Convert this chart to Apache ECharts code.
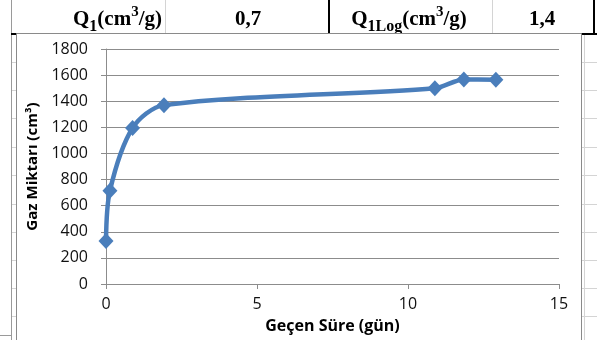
<!DOCTYPE html>
<html>
<head>
<meta charset="utf-8">
<script src="https://cdn.jsdelivr.net/npm/echarts@6/dist/echarts.min.js"></script>
<style>
  html, body { margin: 0; padding: 0; background: #fff; }
  #chart { width: 597px; height: 340px; }
</style>
</head>
<body>
<div id="chart"></div>
<script>
// Elapsed time (days) and cumulative gas volume (cm3)
const days = [0, 0.13, 0.88, 1.92, 10.89, 11.85, 12.91];
const gas = [330, 715, 1195, 1370, 1500, 1567, 1565];

// Summary cells shown above the chart
const q1Value = '0,7';
const q1LogValue = '1,4';

const xTicks = { min: 0, max: 15, interval: 5 };
const yTicks = { min: 0, max: 1800, interval: 200 };

const points = days.map((d, i) => [d, gas[i]]);

const serif = 'Liberation Serif';
const sans = 'Open Sans';
const gridGray = '#8c8c8c';
const sheetGray = '#d4d4d4';

const headerRich = {
  m: { fontFamily: serif, fontWeight: 'bold', fontSize: 21, lineHeight: 30, fill: '#000' },
  s: { fontFamily: serif, fontWeight: 'bold', fontSize: 16, lineHeight: 20, verticalAlign: 'bottom', fill: '#000' },
  p: { fontFamily: serif, fontWeight: 'bold', fontSize: 15, lineHeight: 10, verticalAlign: 'top', fill: '#000' }
};

function headerText(text, x, align) {
  return {
    type: 'text', z: -20,
    style: { text, x, y: 20, rich: headerRich, align, verticalAlign: 'middle', textAlign: align, textVerticalAlign: 'middle' }
  };
}

function line(x1, y1, x2, y2, stroke, lineWidth, z) {
  return { type: 'line', z: z, shape: { x1, y1, x2, y2 }, style: { stroke, lineWidth } };
}

// worksheet row lines visible beside the chart frame
const sheetRows = [62, 90, 118, 147, 175, 204, 232, 260, 288, 316];
const sheetGraphics = [];
sheetRows.forEach(y => {
  sheetGraphics.push(line(11, y + 0.5, 16, y + 0.5, sheetGray, 1, -30));
  sheetGraphics.push(line(582, y + 0.5, 597, y + 0.5, sheetGray, 1, -30));
});

const chart = echarts.init(document.getElementById('chart'), null, { renderer: 'canvas' });

chart.setOption({
  backgroundColor: '#fff',
  animation: false,
  graphic: [
    ...sheetGraphics,
    line(11.5, 0, 11.5, 340, '#9a9a9a', 1, -30),
    line(0, 335.5, 11, 335.5, '#9a9a9a', 1, -30),
    line(584.5, 34, 584.5, 340, sheetGray, 1, -30),
    { type: 'text', z: -30, style: { text: ')', x: -4, y: 233, fontFamily: sans, fontSize: 15, fill: '#000', textVerticalAlign: 'middle', verticalAlign: 'middle' } },
    // header row
    line(165.5, 0, 165.5, 33, sheetGray, 1, -25),
    line(492.5, 0, 492.5, 33, sheetGray, 1, -25),
    line(329, 0, 329, 34, '#000', 2, -25),
    line(594, 0, 594, 35, '#000', 2, -25),
    line(11, 34, 597, 34, '#000', 2, -25),
    headerText('{m|Q}{s|1}{m|(cm}{p|3}{m|/g)}', 162, 'right'),
    headerText('{m|' + q1Value + '}', 248, 'center'),
    headerText('{m|Q}{s|1Log}{m|(cm}{p|3}{m|/g)}', 409, 'center'),
    headerText('{m|' + q1LogValue + '}', 542, 'center'),
    // chart frame
    { type: 'rect', z: -15, shape: { x: 16.5, y: 33.5, width: 565, height: 320 }, style: { fill: '#fff', stroke: '#8a8a8a', lineWidth: 1 } }
  ],
  grid: { left: 106, right: 38, top: 49, bottom: 56, containLabel: false },
  xAxis: {
    type: 'value',
    min: xTicks.min, max: xTicks.max, interval: xTicks.interval,
    name: 'Geçen Süre (gün)',
    nameLocation: 'middle',
    nameGap: 34,
    nameTextStyle: { fontFamily: sans, fontWeight: 'bold', fontSize: 16, color: '#000' },
    axisLine: { onZero: false, lineStyle: { color: gridGray, width: 1 } },
    axisTick: { show: true, length: 5, lineStyle: { color: gridGray } },
    axisLabel: { margin: 12, fontFamily: sans, fontSize: 16, color: '#111', formatter: v => String(v) },
    splitLine: { show: false }
  },
  yAxis: {
    type: 'value',
    min: yTicks.min, max: yTicks.max, interval: yTicks.interval,
    name: 'Gaz Miktarı (cm³)',
    nameLocation: 'middle',
    nameGap: 65,
    nameTextStyle: { fontFamily: sans, fontWeight: 'bold', fontSize: 15, color: '#000' },
    axisLine: { show: true, lineStyle: { color: gridGray, width: 1 } },
    axisTick: { show: true, length: 5, lineStyle: { color: gridGray } },
    axisLabel: { margin: 18, fontFamily: sans, fontSize: 16, color: '#111', formatter: v => String(v) },
    splitLine: { show: true, lineStyle: { color: gridGray, width: 1 } }
  },
  series: [{
    type: 'line',
    data: points,
    smooth: 0.3,
    symbol: 'diamond',
    symbolSize: [15, 16],
    lineStyle: { color: '#4a7ebb', width: 4.5 },
    itemStyle: { color: '#4a7ebb' }
  }]
});
</script>
</body>
</html>
